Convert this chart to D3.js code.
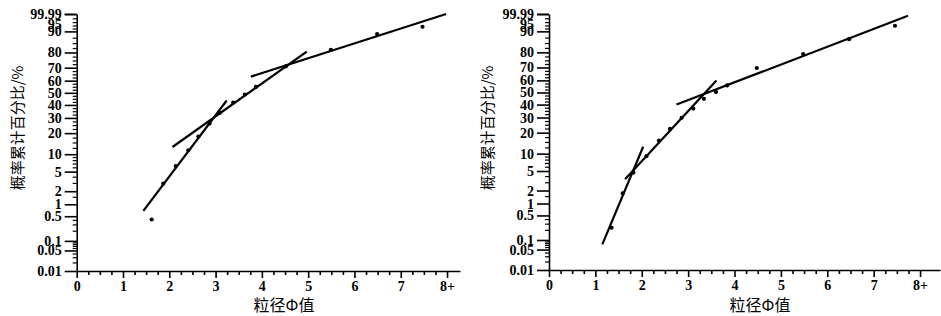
<!DOCTYPE html>
<html><head><meta charset="utf-8">
<script src="https://cdn.jsdelivr.net/npm/d3@7"></script>
<style>
html,body{margin:0;padding:0;background:#fff;}
svg{display:block;}
.tick text{font-family:"Liberation Serif","Times New Roman",serif;font-weight:bold;font-size:14px;fill:#000;}
.cjk{font-family:"Noto Sans CJK SC",sans-serif;fill:#000;}
</style>
</head><body>
<svg id="chart" width="941" height="316"></svg>
<script>
// ---------- data ----------
const xTickValues = [0, 1, 2, 3, 4, 5, 6, 7, 8];
const xTickLabels = ["0", "1", "2", "3", "4", "5", "6", "7", "8+"];
const yTickValues = [0.01, 0.05, 0.1, 0.5, 1, 2, 5, 10, 20, 30, 40, 50, 60, 70, 80, 90, 95, 99.99];
const yTickLabels = ["0.01", "0.05", "0.1", "0.5", "1", "2", "5", "10", "20", "30", "40", "50", "60", "70", "80", "90", "95", "99.99"];
const yMinorValues = [0.02, 0.03, 0.04, 0.06, 0.07, 0.08, 0.09, 0.2, 0.3, 0.4, 1.5, 3, 4, 6, 7, 8, 9,
  12.5, 15, 17.5, 22.5, 25, 27.5, 32.5, 35, 37.5, 42.5, 45, 47.5, 52.5, 55, 57.5, 62.5, 65, 67.5,
  72.5, 75, 77.5, 82.5, 85, 87.5, 91, 92, 93, 94];
const xLabel = "粒径Φ值";
const yLabel = "概率累计百分比/%";

// left panel: grain size (phi) and cumulative percentage
const leftPhi = [1.62, 1.87, 2.14, 2.41, 2.63, 2.87, 3.09, 3.38, 3.63, 3.87, 4.52, 5.49, 6.49, 7.47];
const leftPct = [0.41, 2.9, 6.3, 11.5, 18.1, 26.1, 33.7, 41.9, 48.6, 54.9, 71.0, 81.5, 89.0, 91.6];
const leftLine1Phi = [1.44, 3.24], leftLine1Pct = [0.69, 43.6];
const leftLine2Phi = [2.07, 4.97], leftLine2Pct = [12.9, 80.5];
const leftLine3Phi = [3.76, 7.98], leftLine3Pct = [63.2, 95.0];

// right panel
const rightPhi = [1.35, 1.59, 1.82, 2.10, 2.37, 2.61, 2.86, 3.11, 3.34, 3.60, 3.84, 4.48, 5.48, 6.47, 7.46];
const rightPct = [0.23, 1.74, 4.66, 9.1, 15.7, 22.3, 29.8, 36.8, 44.7, 50.5, 55.9, 69.6, 79.0, 86.8, 91.9];
const rightLine1Phi = [1.15, 2.03], rightLine1Pct = [0.073, 12.8];
const rightLine2Phi = [1.64, 3.61], rightLine2Pct = [3.45, 60.0];
const rightLine3Phi = [2.75, 7.74], rightLine3Pct = [40.0, 94.6];

// ---------- probit transform (inverse normal CDF, Acklam) ----------
function probit(p) {
  const a = [-3.969683028665376e+01, 2.209460984245205e+02, -2.759285104469687e+02, 1.383577518672690e+02, -3.066479806614716e+01, 2.506628277459239e+00];
  const b = [-5.447609879822406e+01, 1.615858368580409e+02, -1.556989798598866e+02, 6.680131188771972e+01, -1.328068155288572e+01];
  const c = [-7.784894002430293e-03, -3.223964580411365e-01, -2.400758277161838e+00, -2.549732539343734e+00, 4.374664141464968e+00, 2.938163982698783e+00];
  const d = [7.784695709041462e-03, 3.224671290700398e-01, 2.445134137142996e+00, 3.754408661907416e+00];
  const pl = 0.02425, ph = 1 - pl;
  let q, r;
  if (p < pl) { q = Math.sqrt(-2 * Math.log(p)); return (((((c[0]*q+c[1])*q+c[2])*q+c[3])*q+c[4])*q+c[5]) / ((((d[0]*q+d[1])*q+d[2])*q+d[3])*q+1); }
  if (p <= ph) { q = p - 0.5; r = q*q; return (((((a[0]*r+a[1])*r+a[2])*r+a[3])*r+a[4])*r+a[5])*q / (((((b[0]*r+b[1])*r+b[2])*r+b[3])*r+b[4])*r+1); }
  q = Math.sqrt(-2 * Math.log(1 - p)); return -(((((c[0]*q+c[1])*q+c[2])*q+c[3])*q+c[4])*q+c[5]) / ((((d[0]*q+d[1])*q+d[2])*q+d[3])*q+1);
}
const z = pct => probit(pct / 100);

const svg = d3.select("#chart");

function drawPanel(cfg) {
  const g = svg.append("g");
  const x = d3.scaleLinear().domain([0, cfg.xMax]).range([cfg.x0, cfg.x1]);
  const y = d3.scaleLinear().domain([z(0.01), z(95)]).range([cfg.yBottom, cfg.yTop]).clamp(true);
  const py = pct => y(z(pct));

  // y minor ticks
  g.append("g").attr("transform", `translate(${cfg.x0},0)`)
    .call(d3.axisLeft(y).tickValues(yMinorValues.map(z)).tickFormat("").tickSize(4).tickSizeOuter(0))
    .call(s => s.select(".domain").remove())
    .call(s => s.selectAll("line").attr("stroke", "#000").attr("stroke-width", 1.2));
  // y major ticks
  const ya = g.append("g").attr("transform", `translate(${cfg.x0},0)`)
    .call(d3.axisLeft(y).tickValues(yTickValues.map(z)).tickFormat((d, i) => yTickLabels[i]).tickSize(12).tickSizeOuter(0).tickPadding(3));
  ya.select(".domain").attr("stroke", "#000").attr("stroke-width", 1.6);
  ya.selectAll(".tick line").attr("stroke", "#000").attr("stroke-width", 1.6);
  ya.selectAll(".tick text").attr("dy", (d, i) => yTickLabels[i] === "95" ? "1.05em" : "0.32em");

  // x minor ticks
  const minor = d3.range(0, 8.01, 0.25).filter(v => Math.abs(v - Math.round(v)) > 1e-6);
  g.append("g").attr("transform", `translate(0,${cfg.yBottom})`)
    .call(d3.axisBottom(x).tickValues(minor).tickFormat("").tickSize(4).tickSizeOuter(0))
    .call(s => s.select(".domain").remove())
    .call(s => s.selectAll("line").attr("stroke", "#000").attr("stroke-width", 1.6));
  // x major ticks
  const xa = g.append("g").attr("transform", `translate(0,${cfg.yBottom})`)
    .call(d3.axisBottom(x).tickValues(xTickValues).tickFormat((d, i) => xTickLabels[i]).tickSize(7).tickSizeOuter(0).tickPadding(3));
  xa.select(".domain").attr("stroke", "#000").attr("stroke-width", 1.6);
  xa.selectAll(".tick line").attr("stroke", "#000").attr("stroke-width", 1.6);

  // fitted segments
  const line = d3.line().x(d => x(d[0])).y(d => py(d[1]));
  cfg.lines.forEach(([ph, pc]) => {
    g.append("path").attr("d", line(ph.map((v, i) => [v, pc[i]])))
      .attr("fill", "none").attr("stroke", "#000").attr("stroke-width", 2.2);
  });
  // points
  g.selectAll("circle.pt").data(cfg.phi.map((v, i) => [v, cfg.pct[i]])).enter()
    .append("circle").attr("class", "pt")
    .attr("cx", d => x(d[0])).attr("cy", d => py(d[1])).attr("r", 2.1).attr("fill", "#000");

  // labels
  g.append("text").attr("class", "cjk").attr("x", cfg.xLabelX).attr("y", 311)
    .attr("text-anchor", "middle").attr("font-size", 16).text(xLabel);
  g.append("text").attr("class", "cjk")
    .attr("transform", `translate(${cfg.yLabelX},128) rotate(-90)`)
    .attr("text-anchor", "middle").attr("font-size", 15).text(yLabel);
}

drawPanel({
  x0: 76.7, x1: 460, xMax: 8.28, yTop: 14, yBottom: 271,
  phi: leftPhi, pct: leftPct,
  lines: [[leftLine1Phi, leftLine1Pct], [leftLine2Phi, leftLine2Pct], [leftLine3Phi, leftLine3Pct]],
  xLabelX: 284, yLabelX: 23
});
drawPanel({
  x0: 549, x1: 940, xMax: 8.43, yTop: 14, yBottom: 270,
  phi: rightPhi, pct: rightPct,
  lines: [[rightLine1Phi, rightLine1Pct], [rightLine2Phi, rightLine2Pct], [rightLine3Phi, rightLine3Pct]],
  xLabelX: 760, yLabelX: 493
});
</script>
</body></html>
